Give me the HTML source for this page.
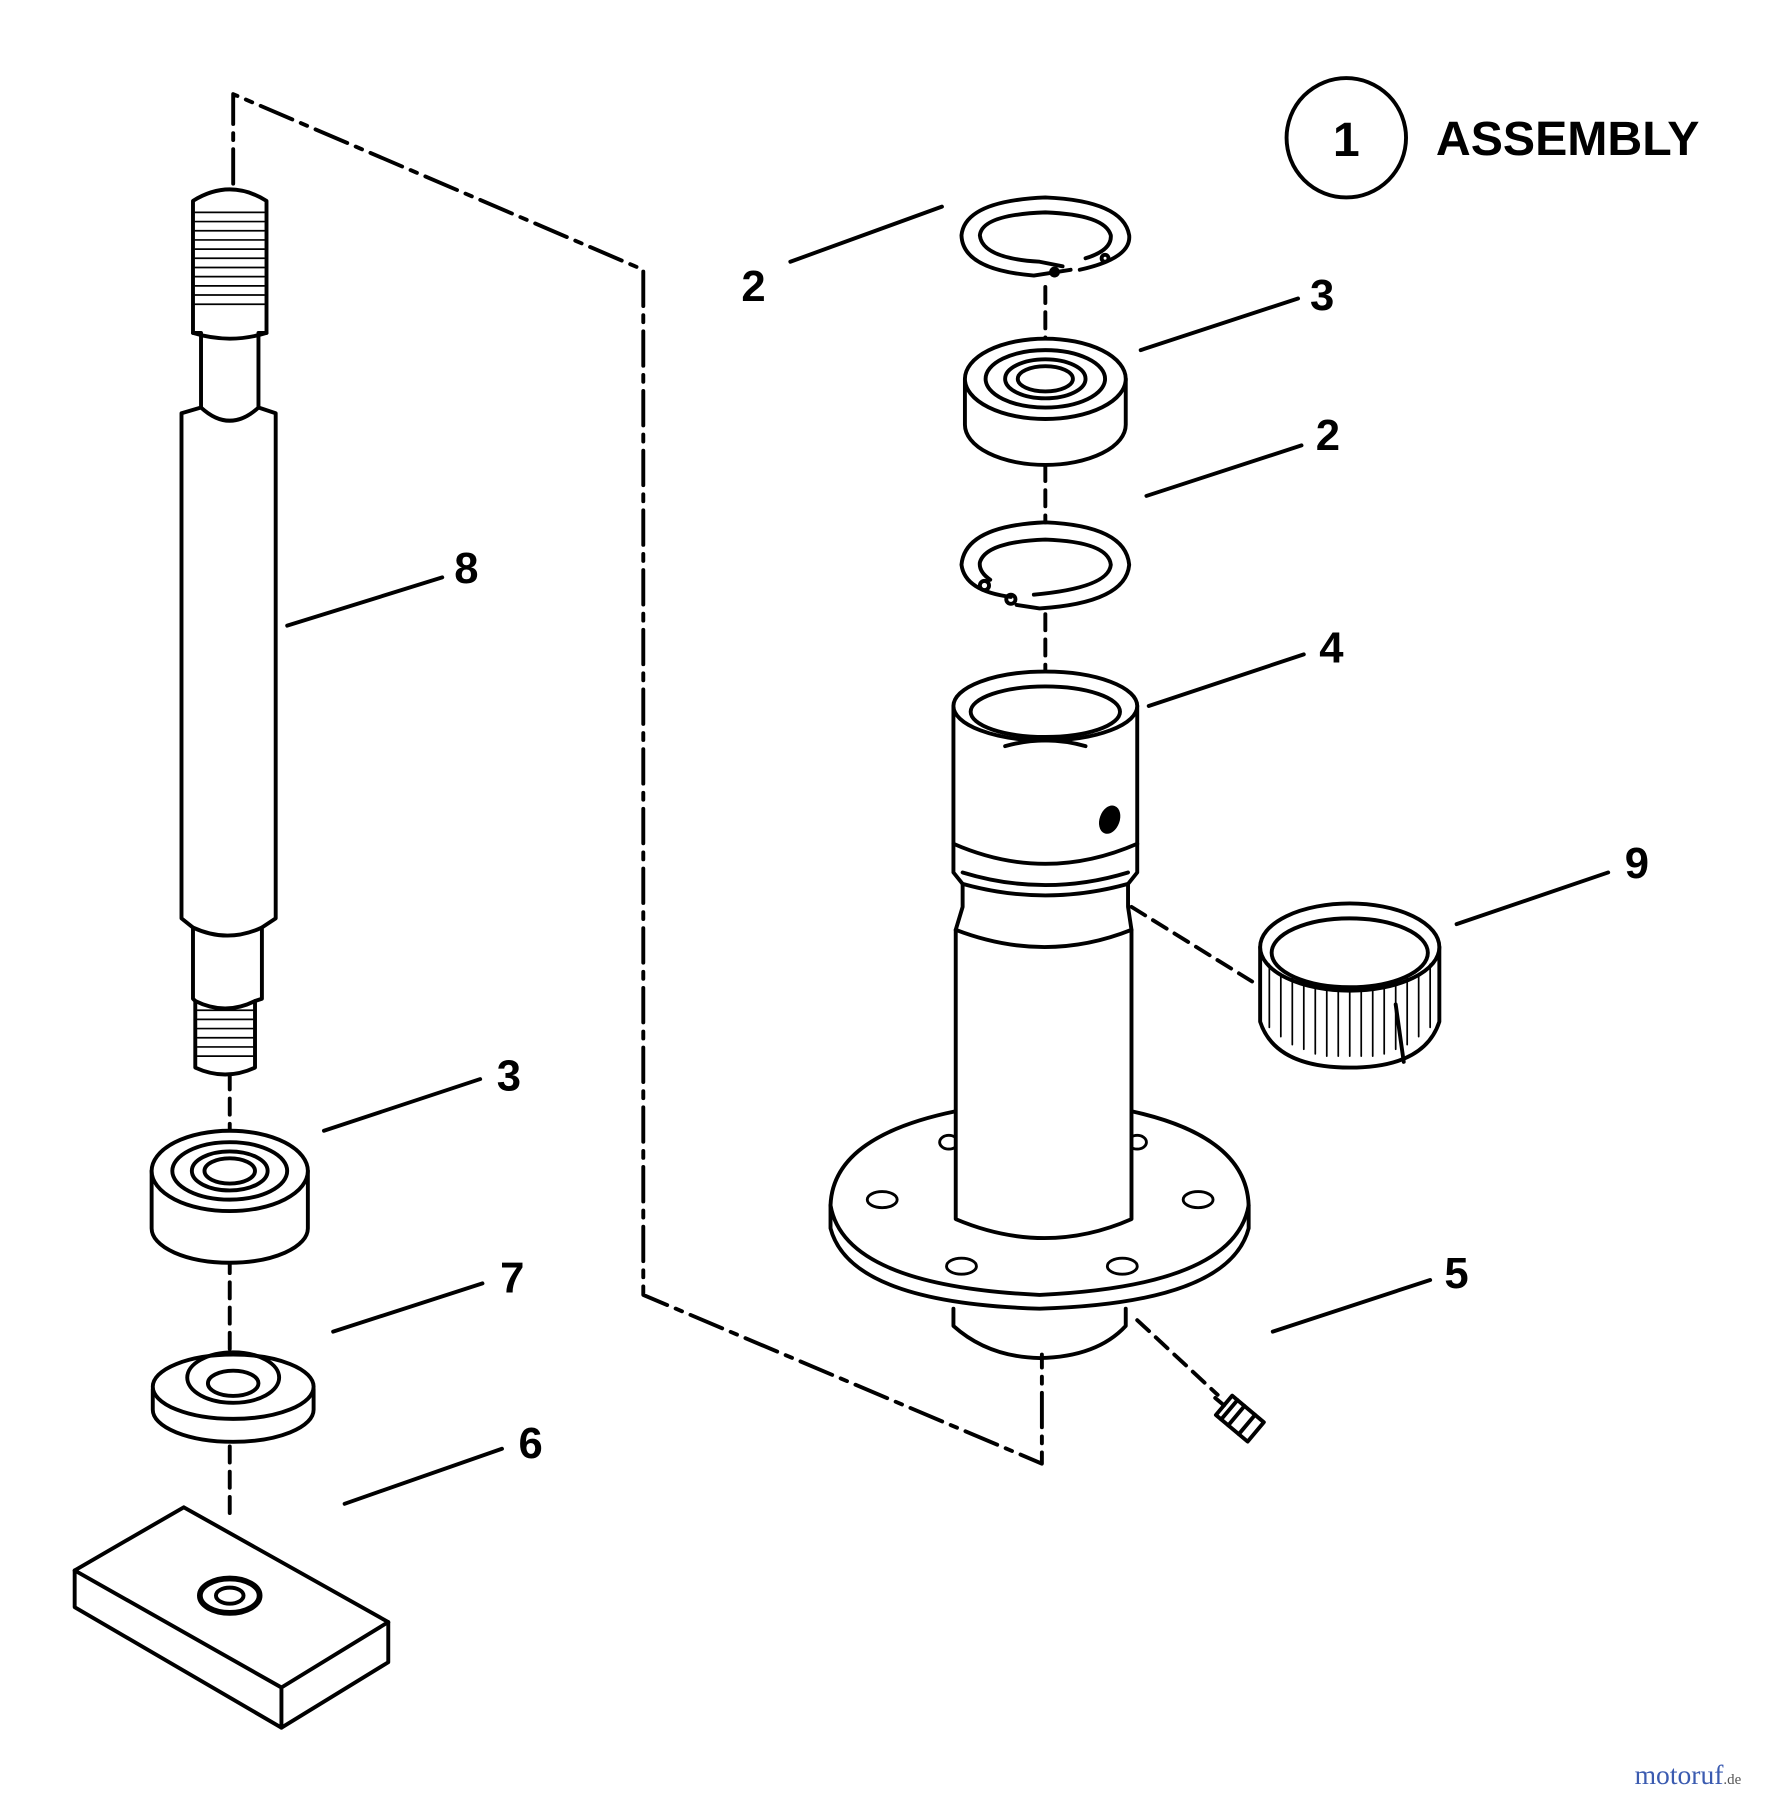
<!DOCTYPE html>
<html><head><meta charset="utf-8"><style>
html,body{margin:0;padding:0;background:#fff;}
svg{display:block}
text{font-family:"Liberation Sans",sans-serif;font-weight:bold;fill:#000}
</style></head><body>
<svg width="1792" height="1800" viewBox="0 0 1560 1568" preserveAspectRatio="none" xmlns="http://www.w3.org/2000/svg">
<rect width="1560" height="1568" fill="#fff"/>
<g fill="none" stroke="#000" stroke-width="3.4" stroke-linejoin="round" stroke-linecap="round">
<path d="M203 160 L203 82 L560 235 L560 1128 L907 1275 L907 1180" stroke-dasharray="30 8 6 8"/>
<path d="M200 935 L200 985 M200 1095 L200 1175 M200 1260 L200 1320 M910 250 L910 295 M910 405 L910 455 M910 535 L910 585 M985 790 L1090 855 M990 1150 L1060 1215" stroke-dasharray="14 8"/>
<circle cx="1172" cy="120" r="52"/>
<path d="M250 545 L385 503 M282 985 L418 940 M290 1160 L420 1118 M300 1310 L437 1262 M688 228 L820 180 M993 305 L1130 260 M998 432 L1133 388 M1000 615 L1135 570 M1268 805 L1400 760 M1108 1160 L1245 1115"/>

<path d="M168 175 Q200 155 232 175 L232 290 L225 290 L225 355 L240 360 L240 800 L228 808 L228 870 L222 872 L222 930 Q196 942 170 930 L170 872 L168 870 L168 808 L158 800 L158 360 L175 355 L175 290 L168 290 Z" fill="#fff"/>
<path d="M168 290 Q200 300 232 290 M175 355 Q200 378 225 355 M168 808 Q198 822 228 808 M170 872 Q196 885 222 872"/>
<g stroke-width="1.5"><path d="M170 185h60M170 193h60M170 201h60M170 209h60M170 217h60M170 225h60M170 233h60M170 241h60M170 249h60M170 257h60M170 265h60M172 880h48M172 888h48M172 896h48M172 904h48M172 912h48M172 920h48"/></g>

<path d="M132 1020 L132 1070 A68 30 0 0 0 268 1070 L268 1020" fill="#fff"/>
<ellipse cx="200" cy="1020" rx="68" ry="35" fill="#fff"/>
<ellipse cx="200" cy="1020" rx="50" ry="25"/>
<ellipse cx="200" cy="1020" rx="33" ry="17"/>
<ellipse cx="200" cy="1020" rx="22" ry="11"/>

<path d="M133 1210 L133 1228 A70 28 0 0 0 273 1228 L273 1210" fill="#fff"/>
<ellipse cx="203" cy="1208" rx="70" ry="28" fill="#fff"/>
<ellipse cx="203" cy="1200" rx="40" ry="22"/>
<ellipse cx="203" cy="1205" rx="22" ry="11"/>

<path d="M65 1368 L160 1313 L338 1413 L338 1448 L245 1505 L65 1400 Z" fill="#fff"/>
<path d="M65 1368 L245 1470 L338 1413 M245 1470 L245 1505"/>
<ellipse cx="200" cy="1390" rx="26" ry="15" stroke-width="5"/>
<ellipse cx="200" cy="1390" rx="12" ry="7"/>

<path d="M940 235 Q985 225 983 205 Q978 175 910 172 Q840 175 837 205 Q838 235 900 240 L932 235 M945 225 Q968 218 967 205 Q962 187 910 185 Q855 187 853 205 Q855 225 905 228 L925 232"/>
<circle cx="918" cy="237" r="3"/><circle cx="962" cy="225" r="3"/>

<path d="M840 330 L840 370 A70 35 0 0 0 980 370 L980 330" fill="#fff"/>
<ellipse cx="910" cy="330" rx="70" ry="35" fill="#fff"/>
<ellipse cx="910" cy="330" rx="52" ry="25"/>
<ellipse cx="910" cy="330" rx="35" ry="17"/>
<ellipse cx="910" cy="330" rx="24" ry="11"/>

<path d="M880 520 Q840 515 837 492 Q840 458 910 455 Q980 458 983 492 Q980 525 905 530 L885 527 M862 505 Q852 498 853 490 Q858 472 910 470 Q965 472 967 492 Q965 512 900 518"/>
<circle cx="880" cy="522" r="4"/><circle cx="857" cy="510" r="4"/>

<path d="M723 1050 L723 1070 Q740 1135 905 1140 Q1070 1135 1087 1070 L1087 1050"/>
<path d="M832 968 Q725 990 723 1050 Q735 1120 905 1128 Q1075 1120 1087 1050 Q1085 990 985 968"/>
<g stroke-width="2.5">
<ellipse cx="768" cy="1045" rx="13" ry="7"/><ellipse cx="1043" cy="1045" rx="13" ry="7"/>
<ellipse cx="837" cy="1103" rx="13" ry="7"/><ellipse cx="977" cy="1103" rx="13" ry="7"/>
<ellipse cx="826" cy="995" rx="8" ry="6"/><ellipse cx="990" cy="995" rx="8" ry="6"/>
</g>
<path d="M830 615 L830 760 L838 770 L838 790 L832 810 L832 1062 Q910 1095 985 1062 L985 810 L982 790 L982 770 L990 760 L990 615" fill="#fff"/>
<ellipse cx="910" cy="615" rx="80" ry="30" fill="#fff"/>
<ellipse cx="910" cy="620" rx="65" ry="22"/>
<path d="M875 650 Q910 640 945 650"/>
<path d="M830 735 Q910 770 990 735 M838 770 Q910 790 982 770 M838 760 Q910 782 982 760 M832 810 Q910 840 985 810"/>
<ellipse cx="966" cy="714" rx="7" ry="11" transform="rotate(20 966 714)" fill="#000"/>
<path d="M830 1140 L830 1155 Q860 1182 905 1183 Q955 1182 980 1155 L980 1140"/>

<g transform="rotate(40 1080 1235)"><rect x="1062" y="1225" width="36" height="22" fill="#fff"/><path d="M1068 1225v22M1076 1225v22M1088 1225v22M1062 1236h-10"/></g>

<path d="M1097 825 L1097 890 Q1110 930 1175 930 Q1240 930 1253 890 L1253 825" fill="#fff"/>
<ellipse cx="1175" cy="825" rx="78" ry="38" fill="#fff"/>
<ellipse cx="1175" cy="830" rx="68" ry="30"/>
<g stroke-width="1.5"><path d="M1105 840v55M1115 848v55M1125 852v58M1135 856v58M1145 858v60M1155 860v60M1165 860v60M1175 860v60M1185 860v60M1195 860v60M1205 858v60M1215 856v58M1225 852v58M1235 848v55M1245 840v55"/></g>
<path d="M1215 875 L1222 925"/>
</g>

<text x="1172" y="136" font-size="42" text-anchor="middle">1</text>
<text x="1250" y="135" font-size="42">ASSEMBLY</text>
<g font-size="38" text-anchor="middle">
<text x="406" y="508">8</text>
<text x="443" y="950">3</text>
<text x="446" y="1126">7</text>
<text x="462" y="1270">6</text>
<text x="656" y="262">2</text>
<text x="1151" y="270">3</text>
<text x="1156" y="392">2</text>
<text x="1159" y="577">4</text>
<text x="1425" y="765">9</text>
<text x="1268" y="1122">5</text>
</g>
<text x="1423" y="1554" font-size="24" style="font-family:'Liberation Serif',serif;font-weight:normal;fill:#3b5bb0">motoruf<tspan font-size="13" fill="#555">.de</tspan></text>
</svg>
</body></html>
